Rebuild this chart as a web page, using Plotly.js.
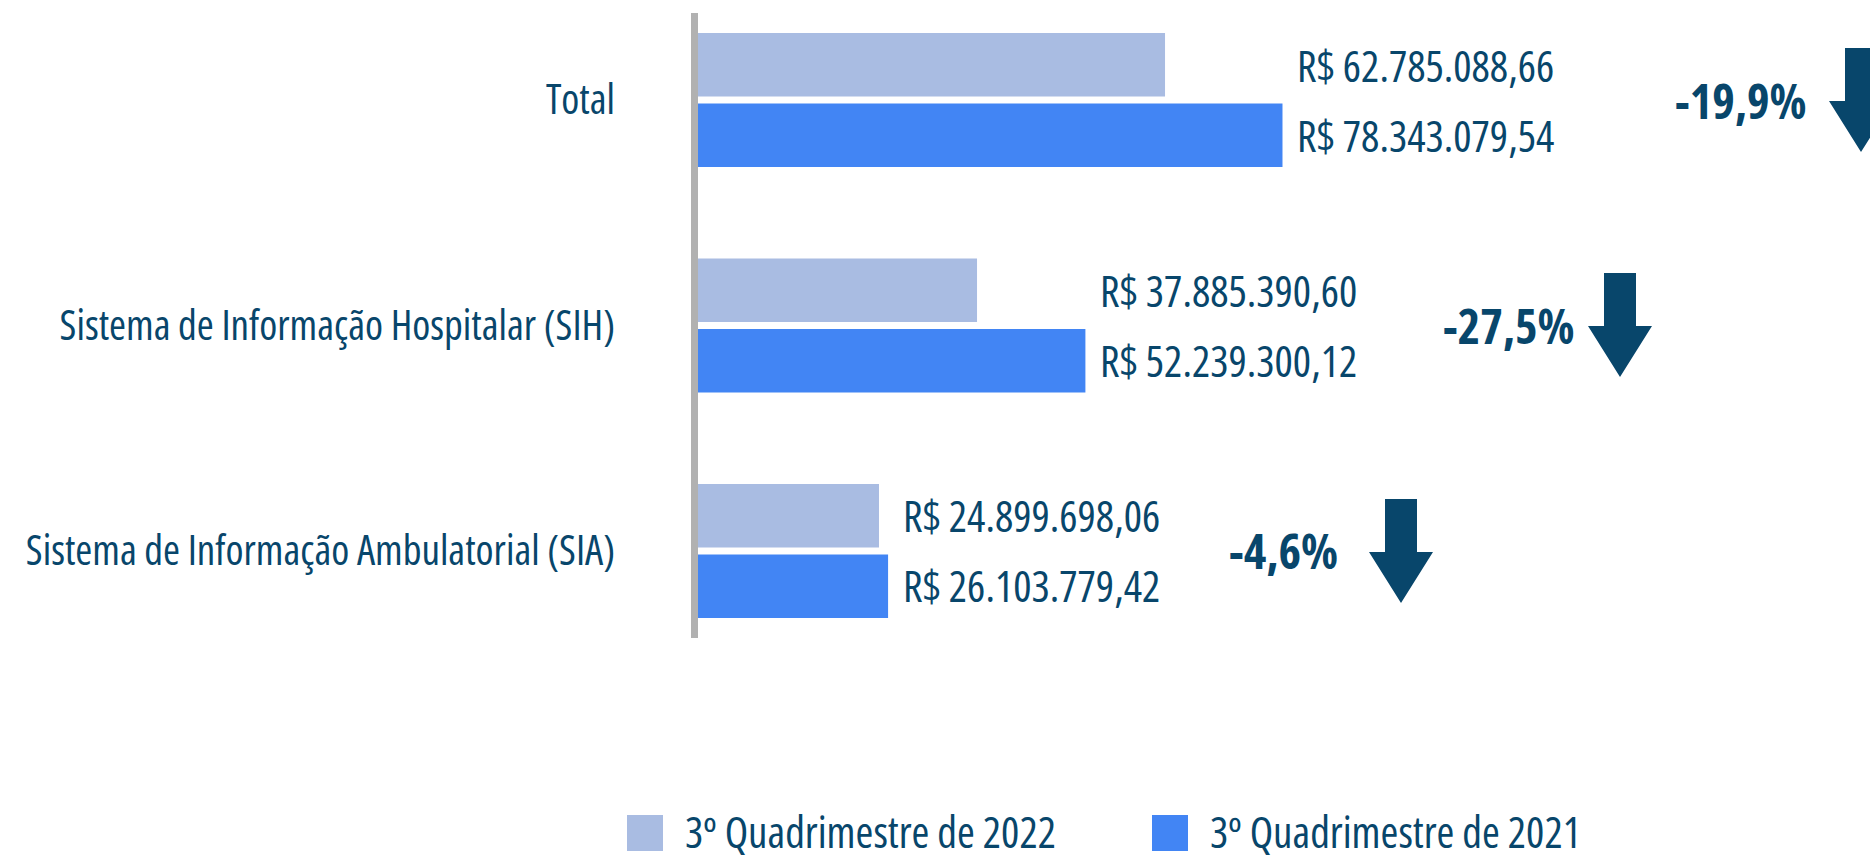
<!DOCTYPE html>
<html>
<head>
<meta charset="utf-8">
<script src="https://cdn.plot.ly/plotly-3.0.1.min.js"></script>
<style>
html,body{margin:0;padding:0;background:#fff;}
#chart{width:1870px;height:856px;}
text, tspan{font-stretch:75% !important;}
</style>
</head>
<body>
<div id="chart"></div>
<script>
const categories = ['Total', 'Sistema de Informação Hospitalar (SIH)', 'Sistema de Informação Ambulatorial (SIA)'];
const values2022 = [62785088.66, 37885390.60, 24899698.06];
const values2021 = [78343079.54, 52239300.12, 26103779.42];
const seriesNames = ['3º Quadrimestre de 2022', '3º Quadrimestre de 2021'];

const colors = ['#a9bce2', '#4285f4'];
const textColor = '#08466b';
const FONT = '"Open Sans", sans-serif';
const FS = 43;

const W = 1870, H = 856;
const L = 691, T = 13, PW = 1179, PH = 625;
const PX_PER_MILLION = 7.55;
const px = x => (x - L) / PW;
const py = y => (T + PH - y) / PH;

function brl(v) {
  const parts = v.toFixed(2).split('.');
  return 'R$ ' + parts[0].replace(/\B(?=(\d{3})+(?!\d))/g, '.') + ',' + parts[1];
}
function pct(a, b) {
  return ((a / b - 1) * 100).toFixed(1).replace('.', ',') + '%';
}

const traces = [
  {type: 'bar', orientation: 'h', name: seriesNames[0], y: categories, x: values2022,
   marker: {color: colors[0]}, hoverinfo: 'none'},
  {type: 'bar', orientation: 'h', name: seriesNames[1], y: categories, x: values2021,
   marker: {color: colors[1]}, hoverinfo: 'none'}
];

const annotations = [];
const shapes = [];

// axis line
shapes.push({type: 'rect', xref: 'paper', yref: 'paper', x0: px(691), x1: px(698), y0: py(638), y1: py(13),
  fillcolor: '#b1b1b1', line: {width: 0}, layer: 'above'});

categories.forEach((c, i) => {
  const xm = Math.max(values2022[i], values2021[i]);
  annotations.push({x: xm, y: c, xref: 'x', yref: 'y', xanchor: 'left', yanchor: 'middle', xshift: 13, yshift: 35,
    text: brl(values2022[i]), showarrow: false, font: {family: FONT, size: FS, color: textColor}});
  annotations.push({x: xm, y: c, xref: 'x', yref: 'y', xanchor: 'left', yanchor: 'middle', xshift: 13, yshift: -35,
    text: brl(values2021[i]), showarrow: false, font: {family: FONT, size: FS, color: textColor}});
});

const pctRight = [1808, 1576, 1340];
const arrowX = [1861, 1620, 1401];
const catY = [100, 325, 551];
categories.forEach((c, i) => {
  annotations.push({x: px(pctRight[i]), y: c, xref: 'paper', yref: 'y', xanchor: 'right', yanchor: 'middle',
    text: '<b>' + pct(values2022[i], values2021[i]) + '</b>', showarrow: false,
    font: {family: FONT, size: 48, color: textColor}});
  const cx = arrowX[i], cy = catY[i];
  const pts = [[cx - 16, cy - 52], [cx + 16, cy - 52], [cx + 16, cy + 1], [cx + 32, cy + 1], [cx, cy + 52],
    [cx - 32, cy + 1], [cx - 16, cy + 1]];
  const path = 'M' + pts.map(p => px(p[0]) + ',' + py(p[1])).join(' L') + ' Z';
  shapes.push({type: 'path', xref: 'paper', yref: 'paper', path: path, fillcolor: textColor, line: {width: 0}});
});

// legend
const legX = [627, 1152];
seriesNames.forEach((n, i) => {
  shapes.push({type: 'rect', xref: 'paper', yref: 'paper', x0: px(legX[i]), x1: px(legX[i] + 36),
    y0: py(851), y1: py(815), fillcolor: colors[i], line: {width: 0}});
  annotations.push({x: px(legX[i] + 56), y: py(831), xref: 'paper', yref: 'paper', xanchor: 'left', yanchor: 'middle',
    text: n, showarrow: false, font: {family: FONT, size: FS, color: textColor}});
});

const layout = {
  width: W, height: H,
  margin: {l: L, r: W - L - PW, t: T, b: H - T - PH, pad: 0},
  paper_bgcolor: '#ffffff', plot_bgcolor: '#ffffff',
  showlegend: false,
  barmode: 'group', bargap: 0.375, bargroupgap: 0.1,
  hovermode: false,
  xaxis: {range: [0, PW / PX_PER_MILLION * 1e6], showgrid: false, zeroline: false, showticklabels: false, showline: false, ticks: ''},
  yaxis: {type: 'category', range: [2.386, -0.386], autorange: false, showgrid: false, zeroline: false, showline: false,
    ticks: '', ticklabelstandoff: 75, tickfont: {family: FONT, size: 41, color: textColor}},
  annotations: annotations,
  shapes: shapes
};

Plotly.newPlot('chart', traces, layout, {staticPlot: true, displayModeBar: false});
</script>
</body>
</html>
